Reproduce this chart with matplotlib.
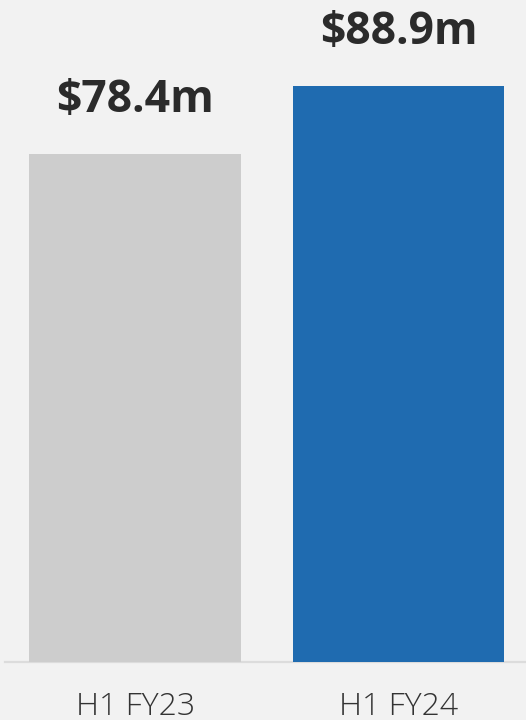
import matplotlib
matplotlib.use("Agg")
import matplotlib.pyplot as plt

categories = ["H1 FY23", "H1 FY24"]
values = [78.4, 88.9]
labels = ["$78.4m", "$88.9m"]
colors = ["#cdcdcd", "#1f6bb0"]

W, H = 526, 720
fig = plt.figure(figsize=(W / 100, H / 100), dpi=100)
fig.patch.set_facecolor("#f2f2f2")

bottom_px = 662
ax = fig.add_axes([0, 1 - bottom_px / H, 1, bottom_px / H])
ax.set_facecolor("#f2f2f2")
px_per_unit = 576 / 88.9
ax.set_ylim(0, bottom_px / px_per_unit)
step = 263.4
ax.set_xlim(-135.5 / step, 1 + (W - 398.4) / step)

x = list(range(len(categories)))
bars = ax.bar(x, values, width=212 / step, color=colors, zorder=2)
ax.axhline(0, xmin=5 / W, xmax=1, color="#dcdcdc", lw=1.6, zorder=1, clip_on=False)

for xi, v, lab in zip(x, values, labels):
    ax.annotate(lab, (xi, v), xytext=(0, 42 * 0.72), textcoords="offset points",
                ha="center", va="baseline", fontsize=32, fontweight="bold",
                color="#2b2b2b", family=["Open Sans", "DejaVu Sans"])

for xi, c in zip(x, categories):
    ax.annotate(c, (xi, 0), xytext=(0, -(715 - bottom_px) * 0.72), textcoords="offset points",
                ha="center", va="baseline", fontsize=23, fontweight="light",
                color="#333333", family=["Open Sans", "DejaVu Sans"], annotation_clip=False)

for s in ax.spines.values():
    s.set_visible(False)
ax.set_xticks([])
ax.set_yticks([])

fig.savefig("out.png", dpi=100, facecolor=fig.get_facecolor())
